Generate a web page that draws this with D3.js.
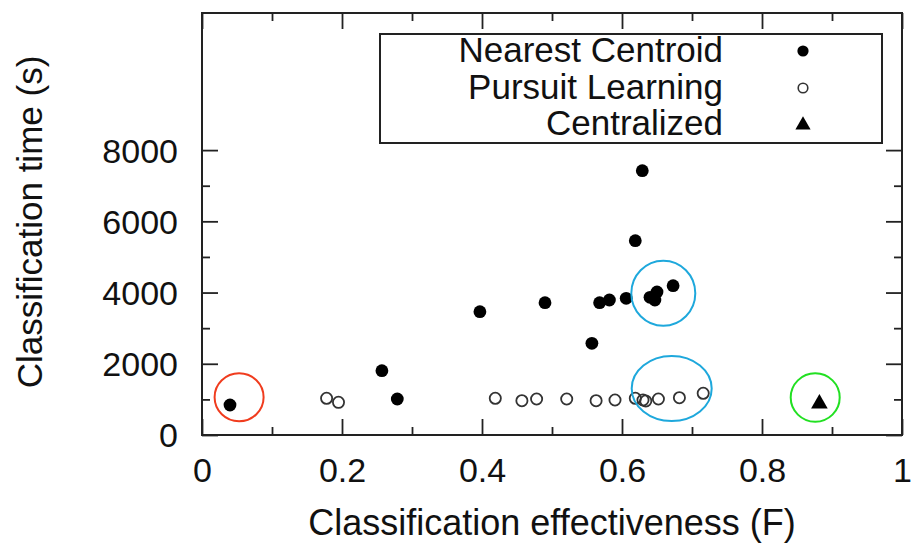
<!DOCTYPE html>
<html>
<head>
<meta charset="utf-8">
<script src="https://cdn.jsdelivr.net/npm/d3@7"></script>
<style>
  body { margin: 0; background: #fff; }
  svg { display: block; font-family: "Liberation Sans", Arial, sans-serif; }
</style>
</head>
<body>
<div id="chart"></div>
<script>
// Nearest Centroid (filled dots)
const centroidF = [0.040, 0.257, 0.279, 0.397, 0.490, 0.557, 0.568, 0.582, 0.606, 0.619, 0.629, 0.640, 0.647, 0.650, 0.673];
const centroidT = [842, 1806, 1011, 3463, 3715, 2575, 3715, 3791, 3839, 5456, 7422, 3867, 3791, 4016, 4193];

// Pursuit Learning (open circles)
const pursuitF = [0.178, 0.195, 0.419, 0.457, 0.478, 0.521, 0.563, 0.590, 0.619, 0.630, 0.634, 0.652, 0.682, 0.716];
const pursuitT = [1031, 918, 1031, 963, 1011, 1011, 963, 983, 1031, 983, 955, 1011, 1047, 1171];

// Centralized (triangle)
const centralF = [0.882];
const centralT = [880];

// highlight rings drawn on top of the plot
const ringF = [0.053, 0.659, 0.671, 0.876];
const ringT = [1059, 3979, 1306, 1053];
const ringColor = ["#f03c1e", "#1ea8dc", "#1ea8dc", "#22e022"];

const xTicks = [0, 0.2, 0.4, 0.6, 0.8, 1];
const xMinor = [0.1, 0.3, 0.5, 0.7, 0.9];
const yTicks = [0, 2000, 4000, 6000, 8000];
const yMinor = [1000, 3000, 5000, 7000];
const legendLabels = ["Nearest Centroid", "Pursuit Learning", "Centralized"];

const width = 914, height = 545;
const plotLeft = 202, plotRight = 902, plotTop = 13, plotBottom = 435;
const frameColor = "#222";

const svg = d3.select("#chart").append("svg")
    .attr("width", width)
    .attr("height", height);

const x = d3.scaleLinear().domain([0, 1]).range([plotLeft, plotRight]);
const y = d3.scaleLinear().domain([0, 11850]).range([plotBottom, plotTop]);

// ticks on all four sides (mirrored), major 16px, minor 8px
function addAxis(axis, translate, ticks, size, labels) {
    const g = svg.append("g")
        .attr("transform", translate)
        .call(axis.tickValues(ticks).tickSize(size).tickSizeOuter(0).tickPadding(0).tickFormat(d3.format("")));
    g.select(".domain").remove();
    g.selectAll(".tick line").attr("stroke", frameColor).attr("stroke-width", 1.8);
    if (!labels) g.selectAll(".tick text").remove();
    return g;
}

// x ticks
const xb = addAxis(d3.axisTop(x), `translate(0,${plotBottom})`, xTicks, 16, true);
xb.selectAll(".tick text")
    .attr("y", 47)
    .attr("dy", 0)
    .attr("font-size", 34)
    .attr("fill", "#111");
addAxis(d3.axisTop(x), `translate(0,${plotBottom})`, xMinor, 8, false);
addAxis(d3.axisBottom(x), `translate(0,${plotTop})`, xTicks, 16, false);
addAxis(d3.axisBottom(x), `translate(0,${plotTop})`, xMinor, 8, false);

// y ticks
const yl = addAxis(d3.axisRight(y), `translate(${plotLeft},0)`, yTicks, 16, true);
yl.selectAll(".tick text")
    .attr("x", 178 - plotLeft)
    .attr("dy", "0.35em")
    .attr("text-anchor", "end")
    .attr("font-size", 34)
    .attr("fill", "#111");
addAxis(d3.axisRight(y), `translate(${plotLeft},0)`, yMinor, 8, false);
addAxis(d3.axisLeft(y), `translate(${plotRight},0)`, yTicks, 16, false);
addAxis(d3.axisLeft(y), `translate(${plotRight},0)`, yMinor, 8, false);

// frame
svg.append("rect")
    .attr("x", plotLeft).attr("y", plotTop)
    .attr("width", plotRight - plotLeft).attr("height", plotBottom - plotTop)
    .attr("fill", "none")
    .attr("stroke", frameColor)
    .attr("stroke-width", 2);

// axis titles
svg.append("text")
    .attr("x", (plotLeft + plotRight) / 2)
    .attr("y", 535)
    .attr("text-anchor", "middle")
    .attr("font-size", 36)
    .attr("fill", "#111")
    .text("Classification effectiveness (F)");

svg.append("text")
    .attr("transform", `translate(42,${(plotTop + plotBottom) / 2 - 2}) rotate(-90)`)
    .attr("text-anchor", "middle")
    .attr("font-size", 35)
    .attr("fill", "#111")
    .text("Classification time (s)");

// data
const centroid = centroidF.map((f, i) => ({ f: f, t: centroidT[i] }));
const pursuit = pursuitF.map((f, i) => ({ f: f, t: pursuitT[i] }));
const central = centralF.map((f, i) => ({ f: f, t: centralT[i] }));

svg.append("g").selectAll("circle")
    .data(pursuit)
    .enter().append("circle")
    .attr("cx", d => x(d.f))
    .attr("cy", d => y(d.t))
    .attr("r", 5.6)
    .attr("fill", "none")
    .attr("stroke", "#333")
    .attr("stroke-width", 1.8);

svg.append("g").selectAll("circle")
    .data(centroid)
    .enter().append("circle")
    .attr("cx", d => x(d.f))
    .attr("cy", d => y(d.t))
    .attr("r", 6.4)
    .attr("fill", "#000");

const tri = d3.symbol().type(d3.symbolTriangle).size(120);
svg.append("g").selectAll("path")
    .data(central)
    .enter().append("path")
    .attr("d", tri)
    .attr("transform", d => `translate(${x(d.f)},${y(d.t)})`)
    .attr("fill", "#000");

// highlight rings (radii in pixels)
const ringRx = [24.5, 32, 40, 24.5];
const ringRy = [24, 32.5, 32.5, 24.2];
svg.append("g").selectAll("ellipse")
    .data(ringF)
    .enter().append("ellipse")
    .attr("cx", d => x(d))
    .attr("cy", (d, i) => y(ringT[i]))
    .attr("rx", (d, i) => ringRx[i])
    .attr("ry", (d, i) => ringRy[i])
    .attr("fill", "none")
    .attr("stroke", (d, i) => ringColor[i])
    .attr("stroke-width", 2);

// legend
const legend = svg.append("g");
legend.append("rect")
    .attr("x", 380).attr("y", 34)
    .attr("width", 502).attr("height", 109)
    .attr("fill", "#fff")
    .attr("stroke", frameColor)
    .attr("stroke-width", 2);

const rowY = [51, 88, 124];
legend.selectAll("text")
    .data(legendLabels)
    .enter().append("text")
    .attr("x", 723)
    .attr("y", (d, i) => rowY[i] + 11)
    .attr("text-anchor", "end")
    .attr("font-size", 35)
    .attr("fill", "#111")
    .text(d => d);

legend.append("circle")
    .attr("cx", 803).attr("cy", rowY[0])
    .attr("r", 5.6).attr("fill", "#000");
legend.append("circle")
    .attr("cx", 803).attr("cy", rowY[1])
    .attr("r", 4.8).attr("fill", "none")
    .attr("stroke", "#333").attr("stroke-width", 1.6);
legend.append("path")
    .attr("d", d3.symbol().type(d3.symbolTriangle).size(100))
    .attr("transform", `translate(803,${rowY[2] + 1})`)
    .attr("fill", "#000");
</script>
</body>
</html>
